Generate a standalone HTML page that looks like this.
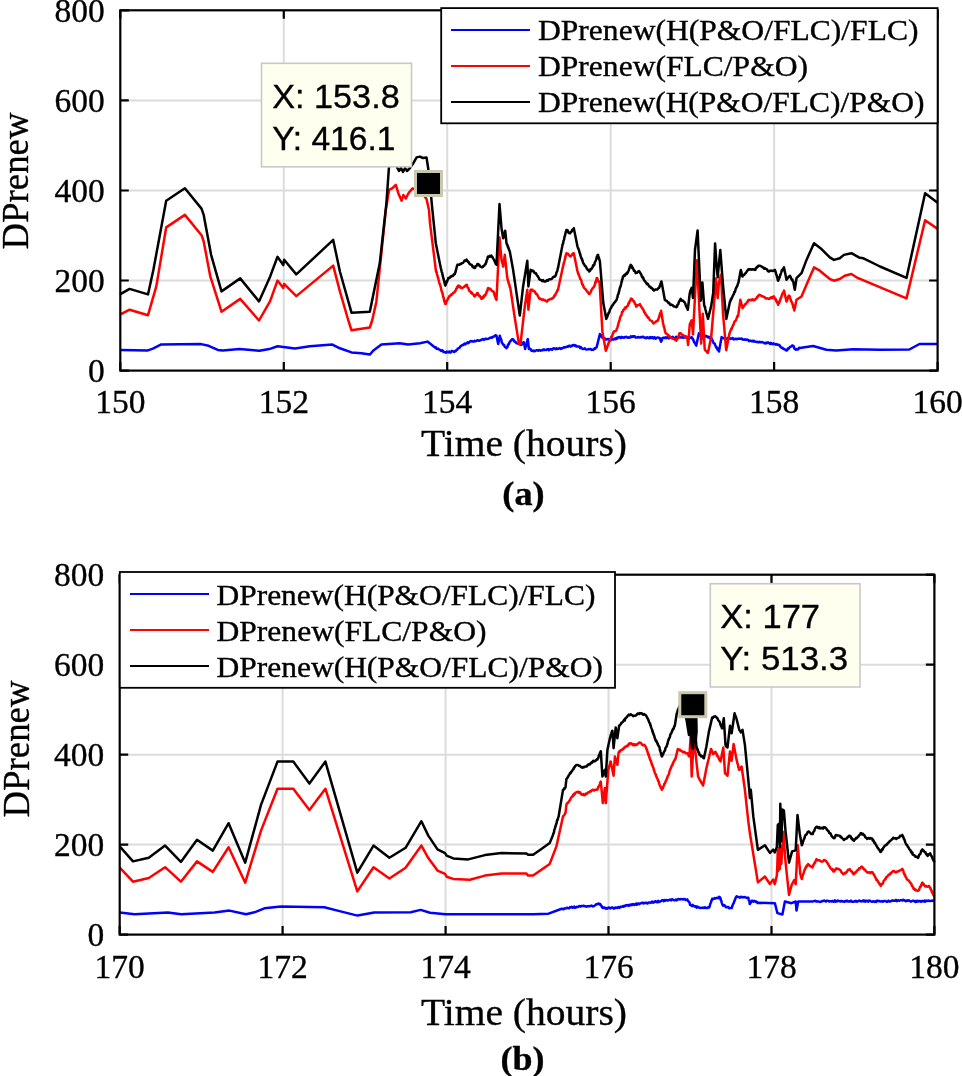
<!DOCTYPE html>
<html><head><meta charset="utf-8"><style>
html,body{margin:0;padding:0;background:#fff;}
svg{display:block;filter:blur(0.3px);}
text{stroke:#000;stroke-width:0.35px;}
.tk{font-family:"Liberation Serif",serif;font-size:33.5px;fill:#000;}
.lab{font-family:"Liberation Serif",serif;font-size:38.7px;fill:#000;}
.cap{font-family:"Liberation Serif",serif;font-size:34px;font-weight:bold;fill:#000;}
.lg{font-family:"Liberation Serif",serif;font-size:30px;fill:#000;}
.dt{font-family:"Liberation Sans",sans-serif;font-size:33.5px;fill:#000;}
</style></head><body>
<svg width="962" height="1076" viewBox="0 0 962 1076">
<path d="M283.8 10.3V370.6 M447.2 10.3V370.6 M610.7 10.3V370.6 M774.1 10.3V370.6 M120.3 280.5H937.6 M120.3 190.5H937.6 M120.3 100.4H937.6" stroke="#dcdcdc" stroke-width="2" fill="none"/>
<path d="M120.3 349.9 L147.9 350.4 L152.9 348.6 L161.2 344.4 L201.2 344.1 L208.6 345.8 L217.8 349.9 L222.8 350.4 L239.4 349.1 L259.4 350.8 L269.3 349.1 L277.5 346.3 L283.3 346.9 L295.0 348.6 L309.9 346.3 L332.4 344.6 L339.9 348.3 L351.5 352.4 L361.5 353.3 L369.8 354.6 L373.1 350.8 L381.4 344.6 L399.7 343.3 L408.0 344.6 L420.0 343.2 L427.5 341.6 L435.0 347.4 L435.8 347.2 L436.5 348.7 L437.3 348.9 L438.1 348.6 L438.8 349.3 L439.6 349.6 L440.4 350.3 L441.2 350.9 L441.9 350.3 L442.7 350.5 L443.5 352.1 L444.2 351.9 L445.0 352.4 L445.8 352.7 L446.7 351.5 L447.5 352.0 L448.3 352.4 L449.2 351.5 L450.0 352.5 L450.8 352.4 L451.6 351.0 L452.5 350.9 L453.3 351.5 L454.1 352.0 L455.0 351.1 L455.8 351.2 L456.4 350.2 L457.1 349.9 L457.7 348.7 L458.4 348.3 L459.0 348.1 L459.7 347.5 L460.3 346.5 L461.0 345.9 L461.6 345.7 L462.4 344.9 L463.1 344.9 L463.9 344.3 L464.6 343.5 L465.4 344.3 L466.1 343.5 L466.9 343.3 L467.6 342.2 L468.4 343.1 L469.1 342.5 L469.9 341.6 L470.7 340.9 L471.6 341.1 L472.4 341.6 L473.2 341.4 L474.0 341.6 L474.9 340.7 L475.7 341.2 L476.5 340.9 L477.4 340.2 L478.2 340.5 L479.0 340.8 L479.9 340.6 L480.7 340.0 L481.5 340.0 L482.4 339.0 L483.2 339.2 L484.0 339.9 L484.8 339.2 L485.7 338.7 L486.5 339.1 L487.3 338.9 L488.0 338.9 L488.8 338.6 L489.6 337.9 L490.3 337.7 L491.1 337.5 L491.9 337.7 L492.7 337.0 L493.4 336.6 L494.2 336.5 L495.0 335.5 L495.7 335.3 L496.5 335.7 L498.2 344.1 L499.8 335.7 L500.1 336.8 L500.4 338.1 L500.6 338.3 L500.9 338.9 L501.2 339.4 L501.5 340.7 L501.7 342.3 L502.0 342.8 L502.3 343.2 L502.8 343.9 L503.4 345.0 L503.9 344.7 L504.4 345.7 L504.9 347.0 L505.4 347.1 L506.0 347.5 L506.5 348.2 L506.9 347.1 L507.2 346.8 L507.6 346.7 L508.0 344.5 L508.3 345.0 L508.7 344.3 L509.1 343.6 L509.4 342.7 L509.8 341.6 L510.4 341.4 L511.0 340.4 L511.7 339.8 L512.3 339.1 L512.9 339.6 L513.5 339.6 L514.1 341.4 L514.7 341.5 L515.3 341.6 L515.9 342.6 L516.5 343.2 L517.3 343.5 L518.2 343.6 L519.0 343.8 L519.8 344.4 L520.7 344.8 L521.5 344.9 L522.1 344.4 L522.8 343.6 L523.4 342.3 L524.0 342.4 L525.1 349.0 L525.3 347.8 L525.5 346.9 L525.8 346.7 L526.0 346.2 L526.2 345.3 L526.5 344.5 L526.7 343.7 L526.9 342.0 L527.1 342.1 L527.3 341.0 L527.6 339.3 L527.8 339.1 L528.9 349.0 L529.7 348.7 L530.6 349.2 L531.4 350.7 L532.3 350.4 L533.1 351.2 L533.9 350.5 L534.8 351.2 L535.6 350.7 L536.4 350.2 L537.3 350.3 L538.1 350.8 L538.9 350.1 L539.8 350.2 L540.6 350.8 L541.4 350.3 L542.2 350.0 L543.1 350.2 L543.9 349.4 L544.7 349.9 L545.6 349.9 L546.4 349.9 L547.2 349.3 L548.1 349.1 L548.9 350.2 L549.7 349.5 L550.6 349.0 L551.4 349.5 L552.2 349.7 L553.1 348.4 L553.9 348.3 L554.7 348.4 L555.6 349.2 L556.4 348.3 L557.2 349.0 L558.1 348.8 L558.9 348.6 L559.7 348.0 L560.6 349.0 L561.4 348.2 L562.2 348.4 L563.1 347.8 L563.9 347.2 L564.7 347.6 L565.6 347.0 L566.4 347.1 L567.2 346.5 L568.1 346.7 L568.9 345.7 L569.7 345.8 L570.6 346.6 L571.4 345.7 L572.3 346.0 L573.3 344.9 L574.2 344.9 L574.9 345.8 L575.7 345.3 L576.4 346.5 L577.2 346.6 L577.9 346.4 L578.6 346.5 L579.4 346.5 L580.1 348.1 L580.9 347.2 L581.6 348.2 L582.4 348.8 L583.3 349.1 L584.1 348.7 L584.9 348.2 L585.8 349.4 L586.6 349.6 L587.5 349.4 L588.3 349.2 L589.1 349.1 L590.0 349.2 L590.8 349.1 L591.6 349.9 L592.5 349.7 L593.3 349.9 L594.0 348.9 L594.6 348.3 L595.3 348.6 L595.9 347.6 L596.6 347.4 L599.9 334.1 L600.5 334.8 L601.0 335.2 L601.6 336.7 L602.2 337.4 L602.7 336.8 L603.3 338.2 L604.1 338.0 L604.9 338.4 L605.8 339.6 L606.6 339.5 L607.4 339.0 L608.2 339.0 L609.1 339.9 L609.9 339.9 L610.7 340.2 L611.6 340.1 L612.4 339.0 L613.2 339.6 L614.1 339.1 L614.9 338.6 L615.7 339.2 L616.6 337.8 L617.4 338.4 L618.2 337.2 L619.1 337.1 L619.9 337.4 L620.7 338.0 L621.6 336.9 L622.4 337.7 L623.2 337.4 L624.1 337.8 L624.9 337.0 L625.7 336.9 L626.5 336.8 L627.4 337.7 L628.2 337.2 L629.0 337.7 L629.9 337.6 L630.7 336.4 L631.5 337.0 L632.4 336.3 L633.2 336.9 L634.0 336.2 L634.8 336.3 L635.6 337.6 L636.4 337.5 L637.2 337.6 L638.0 336.9 L638.8 337.3 L639.6 337.6 L640.5 337.1 L641.3 337.4 L642.1 336.9 L642.9 336.7 L643.7 337.1 L644.5 338.0 L645.3 337.6 L646.1 338.2 L646.9 337.5 L647.7 337.3 L648.5 338.1 L649.3 338.2 L650.1 337.0 L650.9 338.0 L651.7 337.2 L652.5 337.3 L653.4 338.5 L654.2 337.2 L655.0 337.6 L655.8 338.7 L656.6 337.9 L657.4 337.5 L658.2 337.6 L659.0 337.8 L659.8 338.2 L660.1 339.4 L660.5 339.3 L660.8 341.4 L661.1 341.6 L661.4 340.6 L661.7 340.6 L662.0 339.7 L662.3 338.2 L663.1 337.8 L663.9 337.7 L664.7 338.0 L665.5 337.4 L666.3 338.2 L667.1 337.2 L667.9 337.1 L668.7 338.5 L669.5 337.4 L670.3 337.8 L671.1 337.6 L672.0 337.3 L672.8 336.9 L673.6 338.1 L674.4 338.2 L675.2 338.1 L676.0 336.8 L676.8 336.9 L677.6 337.4 L678.4 337.9 L679.2 337.2 L680.0 337.1 L680.9 337.5 L681.7 337.6 L682.6 337.2 L683.5 337.7 L684.3 337.5 L685.2 337.6 L686.1 337.5 L686.9 337.9 L687.8 338.4 L688.6 338.9 L689.4 337.8 L690.1 337.8 L690.9 337.6 L691.7 337.1 L692.1 338.5 L692.5 338.4 L692.9 338.9 L693.2 339.7 L693.6 340.4 L694.0 341.9 L694.4 342.6 L694.8 342.5 L695.1 343.2 L695.5 344.2 L695.9 345.0 L696.3 345.6 L698.9 333.2 L699.4 334.1 L699.8 334.3 L700.3 334.7 L700.7 335.8 L701.2 336.3 L701.6 337.7 L702.1 338.4 L702.9 337.2 L703.7 336.7 L704.4 337.0 L705.2 336.0 L706.0 335.8 L706.7 336.6 L707.5 336.5 L708.2 337.5 L709.0 336.8 L709.7 337.7 L710.5 338.5 L711.2 338.4 L711.6 338.5 L712.1 340.5 L712.5 340.1 L712.9 341.7 L713.4 342.8 L713.8 343.3 L714.2 343.3 L714.7 343.7 L715.1 345.0 L715.5 345.7 L716.0 347.1 L716.4 346.9 L716.8 348.5 L717.3 348.1 L717.7 349.9 L718.1 349.4 L718.6 350.5 L719.0 351.5 L721.6 337.1 L722.4 338.0 L723.2 338.1 L724.0 338.5 L724.8 338.7 L725.6 338.4 L726.4 338.8 L727.2 338.7 L728.0 338.0 L728.8 338.4 L729.6 338.0 L730.4 338.9 L731.2 338.8 L732.0 338.3 L732.8 338.0 L733.6 339.4 L734.4 339.2 L735.2 338.8 L736.0 338.8 L736.8 339.3 L737.6 338.7 L738.4 338.7 L739.2 338.6 L740.0 338.9 L740.8 338.7 L741.7 338.5 L742.5 339.6 L743.3 339.4 L744.2 339.8 L745.0 339.2 L745.8 339.8 L746.6 339.6 L747.5 339.7 L748.3 340.1 L749.1 341.1 L750.0 340.6 L750.8 340.8 L751.6 341.3 L752.5 340.8 L753.3 341.4 L754.1 340.8 L754.9 341.6 L755.7 341.7 L756.5 342.0 L757.3 341.8 L758.1 342.2 L758.9 342.4 L759.7 341.7 L760.5 342.2 L761.3 342.3 L762.1 342.0 L762.9 342.4 L763.7 342.7 L764.5 343.3 L765.3 343.4 L766.1 342.5 L766.9 343.2 L767.7 342.4 L768.5 342.5 L769.3 343.3 L770.1 343.9 L770.9 342.9 L771.7 343.9 L772.5 344.2 L773.3 343.4 L774.1 344.1 L774.9 343.9 L775.7 344.6 L776.5 344.0 L777.4 344.7 L778.2 344.9 L779.0 344.7 L779.6 345.4 L780.2 346.4 L780.8 347.1 L781.4 347.8 L782.0 347.8 L782.6 347.8 L783.2 348.9 L784.0 348.9 L784.9 349.3 L785.7 350.2 L786.5 350.5 L787.1 350.3 L787.7 348.6 L788.3 349.0 L788.9 348.4 L789.5 347.5 L790.3 346.8 L791.1 346.5 L792.0 345.5 L792.8 345.5 L793.3 346.5 L793.8 346.2 L794.2 348.3 L794.7 348.8 L795.2 349.2 L795.7 349.7 L796.5 349.0 L797.3 349.6 L798.2 349.4 L799.0 347.8 L799.8 348.0 L813.1 346.0 L826.4 349.7 L836.4 350.5 L853.1 349.2 L880.0 349.7 L909.3 349.5 L919.5 344.0 L937.6 344.0" stroke="#0000ff" stroke-width="2.5" fill="none" stroke-linejoin="round"/>
<path d="M120.0 314.7 L129.6 309.7 L148.0 315.2 L156.3 286.4 L166.2 227.4 L184.9 214.9 L201.5 235.2 L203.7 241.5 L210.3 276.4 L221.5 311.7 L240.2 298.9 L259.0 320.5 L270.0 301.4 L277.5 280.6 L283.3 288.1 L284.1 283.9 L296.3 296.1 L333.2 265.6 L339.9 291.4 L348.2 320.0 L351.5 330.3 L369.8 327.5 L372.3 320.0 L376.4 301.4 L385.8 210.0 L389.1 189.9 L392.5 188.2 L395.8 184.9 L398.3 193.2 L401.6 200.7 L403.3 195.0 L405.8 198.5 L408.6 193.0 L412.4 188.6 L420.0 190.0 L426.5 199.0 L429.0 210.0 L430.0 223.2 L435.8 269.8 L436.0 271.3 L436.2 272.0 L436.4 271.5 L436.7 272.3 L436.9 274.2 L437.1 274.8 L437.3 275.5 L437.5 275.7 L437.7 276.9 L438.0 277.7 L438.2 278.4 L438.4 278.6 L438.6 279.8 L438.8 280.5 L439.0 281.8 L439.3 282.9 L439.5 283.6 L439.7 283.8 L439.9 284.4 L440.1 285.0 L440.3 285.4 L440.6 286.1 L440.8 287.6 L441.0 288.1 L441.2 289.0 L441.4 290.5 L441.6 290.8 L441.8 291.6 L442.1 291.9 L442.3 292.3 L442.5 293.6 L442.7 294.1 L442.9 295.4 L443.1 296.9 L443.4 297.2 L443.6 297.2 L443.8 299.1 L444.0 299.7 L444.2 300.4 L444.4 301.4 L444.7 302.0 L444.9 302.8 L445.1 302.9 L445.3 303.9 L445.7 303.9 L446.1 303.1 L446.4 301.1 L446.8 301.3 L447.2 300.5 L447.6 299.3 L448.0 298.7 L448.3 297.9 L448.7 297.8 L449.1 296.4 L449.7 295.8 L450.4 295.8 L451.0 294.5 L451.7 294.8 L452.3 294.2 L453.0 293.0 L453.6 292.6 L454.3 292.6 L454.9 291.4 L455.3 291.0 L455.8 289.9 L456.2 288.8 L456.6 288.2 L457.0 288.1 L457.4 286.5 L457.9 286.9 L458.3 285.6 L459.0 285.7 L459.7 287.1 L460.4 286.6 L461.0 288.0 L461.7 288.0 L462.4 288.1 L463.1 287.6 L463.8 287.0 L464.5 286.7 L465.2 286.0 L465.9 285.1 L466.6 284.8 L467.0 285.1 L467.3 286.3 L467.7 287.7 L468.1 287.9 L468.4 287.8 L468.8 289.7 L469.2 290.3 L469.5 291.3 L469.9 291.4 L470.5 291.6 L471.1 293.0 L471.8 292.6 L472.4 294.1 L473.0 294.2 L473.6 294.7 L474.3 296.3 L474.9 296.4 L475.4 295.1 L475.9 295.1 L476.4 295.0 L476.9 293.4 L477.4 293.1 L477.9 293.4 L478.4 295.1 L478.9 295.2 L479.4 296.3 L480.0 296.0 L480.5 297.2 L481.0 297.7 L481.5 298.9 L482.1 298.6 L482.7 297.1 L483.3 297.8 L483.9 295.8 L484.5 296.3 L485.1 294.7 L485.7 294.8 L486.0 293.6 L486.3 293.6 L486.6 291.8 L486.9 291.0 L487.3 290.9 L487.6 289.6 L487.9 288.3 L488.2 288.1 L488.9 289.3 L489.6 288.5 L490.3 288.8 L491.1 289.8 L491.8 290.6 L492.5 291.3 L493.2 291.4 L493.5 291.6 L493.8 292.7 L494.1 293.0 L494.4 294.4 L494.7 295.6 L495.0 296.3 L495.3 297.3 L495.6 297.9 L495.9 298.8 L496.2 299.3 L496.5 299.8 L499.5 237.4 L501.5 259.8 L501.7 260.6 L501.9 261.1 L502.1 262.6 L502.4 262.9 L502.6 263.4 L502.8 264.7 L503.0 266.2 L503.2 266.5 L504.8 254.8 L507.3 278.1 L507.5 278.3 L507.7 279.8 L508.0 280.3 L508.2 281.2 L508.4 281.5 L508.6 283.5 L508.8 283.2 L509.1 284.5 L509.3 285.0 L509.5 285.2 L509.7 286.8 L509.9 286.9 L510.2 287.6 L510.4 288.3 L510.6 289.8 L514.8 318.0 L519.0 344.1 L520.5 344.0 L524.8 306.4 L527.3 289.8 L528.4 309.7 L530.6 289.8 L531.4 289.6 L532.3 289.8 L533.1 291.0 L534.0 291.1 L534.8 291.4 L535.3 292.8 L535.7 293.4 L536.2 294.2 L536.6 293.7 L537.1 294.7 L537.5 295.1 L538.0 296.3 L538.4 297.0 L538.9 298.0 L539.3 298.5 L539.8 298.9 L540.6 298.8 L541.4 299.4 L542.3 299.9 L543.1 299.4 L543.9 299.8 L544.8 300.6 L545.6 300.5 L546.4 301.4 L547.1 301.4 L547.9 300.3 L548.6 299.7 L549.4 299.5 L550.1 299.2 L550.9 298.8 L551.6 298.9 L552.4 298.4 L553.1 298.1 L553.5 297.1 L553.9 296.9 L554.3 295.6 L554.7 295.9 L555.1 295.3 L555.5 294.3 L556.0 293.2 L556.4 292.6 L556.8 292.0 L557.2 290.5 L557.6 290.4 L558.0 289.8 L563.0 266.5 L563.2 265.8 L563.4 264.5 L563.6 263.5 L563.8 263.8 L564.0 262.4 L564.2 261.8 L564.4 261.7 L564.6 260.4 L564.8 259.1 L565.0 259.4 L565.2 257.7 L565.4 256.4 L565.6 256.6 L565.8 254.9 L566.0 254.5 L566.2 254.5 L566.4 253.2 L567.1 254.0 L567.8 253.6 L568.5 254.8 L569.1 255.3 L569.8 255.9 L570.5 256.5 L571.2 255.4 L571.8 255.3 L572.5 253.9 L573.1 253.5 L573.8 253.2 L577.5 271.5 L577.8 272.1 L578.1 273.7 L578.4 273.2 L578.7 275.0 L579.0 275.0 L579.3 276.3 L579.6 276.8 L579.9 277.7 L580.2 278.9 L580.6 279.2 L580.9 279.6 L581.2 280.3 L581.5 281.1 L581.8 283.0 L582.1 283.5 L582.4 284.7 L582.7 285.1 L583.0 284.9 L583.3 286.4 L583.8 287.3 L584.4 288.2 L584.9 288.8 L585.4 289.1 L585.9 289.6 L586.5 290.4 L587.0 291.6 L587.5 291.5 L588.0 292.6 L588.6 293.2 L589.1 293.9 L589.6 293.9 L590.0 293.0 L590.5 292.5 L590.9 291.7 L591.4 290.2 L591.8 289.4 L592.3 289.1 L592.7 288.1 L593.2 287.7 L593.6 287.4 L594.1 286.4 L594.4 286.2 L594.7 284.9 L594.9 284.4 L595.2 282.5 L595.5 282.0 L595.8 282.2 L596.1 280.1 L596.3 279.6 L596.6 278.3 L596.9 278.1 L597.3 278.2 L597.7 280.1 L598.1 281.0 L598.4 281.2 L598.8 281.1 L599.2 282.1 L599.6 283.1 L602.4 331.6 L605.8 350.7 L606.1 349.5 L606.4 349.4 L606.7 348.7 L607.0 347.5 L607.3 346.9 L607.6 345.5 L607.8 345.4 L608.1 345.2 L608.4 344.1 L608.7 342.4 L609.0 342.2 L609.3 341.8 L609.6 340.3 L609.9 339.9 L610.3 339.7 L610.7 338.3 L611.0 337.9 L611.4 336.7 L611.8 336.9 L612.2 335.8 L612.6 334.7 L613.0 333.3 L613.3 333.0 L613.7 331.6 L614.1 331.6 L614.9 331.2 L615.8 331.0 L616.6 329.9 L616.8 328.6 L617.0 328.4 L617.3 327.6 L617.5 326.7 L617.7 326.3 L617.9 325.9 L618.1 324.8 L618.4 323.7 L618.6 323.6 L618.8 321.9 L619.0 321.8 L619.2 320.9 L619.5 320.2 L619.7 319.6 L619.9 318.3 L620.2 317.1 L620.5 317.0 L620.8 315.9 L621.1 315.5 L621.4 315.2 L621.7 314.0 L622.0 312.3 L622.3 312.2 L622.6 311.8 L622.9 311.3 L623.2 310.0 L623.8 309.6 L624.4 309.3 L625.0 307.5 L625.6 308.3 L626.2 307.3 L626.8 306.6 L627.4 305.8 L627.8 305.7 L628.2 304.9 L628.5 303.0 L628.9 303.4 L629.3 302.6 L629.7 301.0 L630.1 301.1 L630.4 300.2 L630.8 298.9 L631.2 298.6 L631.8 299.7 L632.3 299.3 L632.9 300.6 L633.4 300.9 L634.0 301.6 L634.4 302.1 L634.8 303.4 L635.2 304.1 L635.7 304.5 L636.1 306.5 L636.5 306.6 L637.2 305.5 L637.9 304.9 L638.5 305.1 L639.2 305.1 L639.9 304.1 L640.3 305.1 L640.7 306.0 L641.1 306.3 L641.5 307.4 L642.0 307.6 L642.4 308.3 L642.8 309.4 L643.2 309.4 L643.6 310.2 L644.0 311.6 L644.5 312.7 L645.0 312.5 L645.5 314.1 L645.9 314.8 L646.4 314.9 L646.9 316.0 L647.4 316.9 L647.9 317.7 L648.3 317.3 L648.8 318.0 L649.3 319.0 L649.8 319.9 L650.5 320.4 L651.2 320.7 L651.9 320.9 L652.6 322.3 L653.3 323.4 L654.0 323.3 L654.7 322.5 L655.4 322.2 L656.0 321.4 L656.7 320.9 L657.4 321.0 L658.1 319.9 L658.4 318.8 L658.6 318.5 L658.9 317.4 L659.2 316.6 L659.5 316.4 L659.7 314.3 L660.0 314.6 L660.3 313.0 L660.6 312.7 L660.8 312.1 L661.1 310.8 L663.1 323.3 L663.3 324.4 L663.5 324.8 L663.7 326.3 L663.9 326.0 L664.1 327.6 L664.4 328.1 L664.6 329.1 L664.8 330.4 L665.0 331.2 L665.2 331.7 L665.4 332.1 L665.6 333.2 L666.3 333.4 L666.9 334.2 L667.6 334.5 L668.2 335.1 L668.9 336.7 L669.5 336.0 L670.2 337.6 L670.8 337.5 L671.5 338.2 L672.3 338.4 L673.1 338.8 L674.0 338.8 L674.8 339.8 L675.6 339.8 L676.4 340.7 L676.7 339.9 L677.1 338.9 L677.4 339.0 L677.8 338.3 L678.1 336.9 L678.4 336.4 L678.8 336.1 L679.1 334.4 L679.5 333.3 L679.8 333.2 L680.5 333.2 L681.2 333.6 L681.8 334.8 L682.5 334.7 L683.2 335.2 L683.9 335.8 L684.7 336.6 L685.5 336.0 L686.4 337.2 L687.2 337.1 L688.1 345.0 L689.8 324.1 L690.2 323.5 L690.6 322.4 L690.9 322.2 L691.3 320.7 L691.7 320.2 L693.0 334.5 L696.9 260.3 L699.5 311.1 L701.1 343.6 L702.8 313.7 L704.7 348.9 L705.2 350.1 L705.8 350.8 L706.4 350.9 L706.9 351.8 L707.5 352.8 L708.0 352.8 L711.2 337.1 L714.5 298.1 L715.8 278.6 L717.7 298.1 L719.0 281.2 L719.2 280.8 L719.5 280.0 L719.8 279.3 L720.0 278.6 L720.2 277.5 L720.5 277.0 L720.8 275.2 L721.0 274.7 L723.0 313.7 L726.2 350.2 L729.5 333.2 L729.8 332.6 L730.2 331.9 L730.5 330.7 L730.9 330.0 L731.2 328.8 L731.6 329.3 L731.9 327.6 L732.3 327.0 L732.6 326.8 L733.0 325.0 L733.3 324.7 L733.7 324.6 L734.1 322.6 L734.5 321.7 L734.8 321.4 L735.2 320.7 L735.6 320.8 L736.0 319.9 L736.4 319.0 L736.8 317.8 L737.1 317.1 L737.5 315.9 L737.9 316.1 L738.3 314.8 L740.3 299.8 L740.5 300.5 L740.7 301.1 L741.0 302.5 L741.2 302.6 L741.4 303.7 L741.6 305.4 L741.8 305.0 L742.1 305.9 L742.3 306.8 L742.5 308.1 L743.0 307.1 L743.5 306.7 L744.0 305.8 L744.5 305.3 L745.0 304.5 L745.5 303.9 L746.1 303.8 L746.6 302.7 L747.1 302.2 L747.6 302.1 L748.1 300.4 L748.6 299.9 L749.1 299.8 L749.9 300.3 L750.8 299.7 L751.6 300.2 L752.4 299.2 L753.2 299.8 L754.1 300.3 L754.9 299.8 L755.4 298.9 L756.0 299.0 L756.5 298.1 L757.0 297.1 L757.5 297.4 L758.0 295.9 L758.6 295.4 L759.1 294.8 L759.9 295.3 L760.7 295.2 L761.6 296.3 L762.4 296.3 L763.2 296.5 L763.9 296.9 L764.7 297.2 L765.4 298.2 L766.2 298.5 L766.9 298.6 L767.6 298.3 L768.4 298.6 L769.1 299.0 L769.9 298.6 L770.8 297.5 L771.6 297.2 L772.4 298.1 L773.3 296.4 L774.1 296.5 L774.5 297.9 L774.8 298.3 L775.2 299.4 L775.6 298.9 L776.0 300.0 L776.3 301.5 L776.7 301.0 L777.1 301.9 L777.5 303.1 L777.8 303.6 L778.2 304.8 L778.5 303.5 L778.8 303.5 L779.1 301.9 L779.4 302.5 L779.7 301.3 L780.0 299.6 L780.3 300.1 L780.6 298.4 L780.9 298.0 L781.2 297.3 L781.5 296.5 L781.8 295.2 L782.1 295.0 L782.4 293.6 L782.8 293.1 L783.1 293.4 L783.4 292.6 L783.7 291.4 L784.0 290.6 L786.5 301.5 L786.8 301.0 L787.1 300.6 L787.4 298.7 L787.8 298.5 L788.1 297.3 L788.4 296.5 L788.7 295.7 L789.0 295.6 L789.3 295.9 L789.7 296.4 L790.0 297.4 L790.3 298.4 L790.6 299.5 L791.0 300.6 L791.3 301.5 L791.6 301.9 L792.0 302.4 L792.3 303.1 L792.5 304.6 L792.7 304.3 L793.0 305.0 L793.2 306.9 L793.4 307.5 L793.6 307.7 L793.9 308.7 L794.1 309.5 L794.3 310.6 L796.5 299.8 L801.5 296.5 L806.5 284.8 L814.0 267.4 L819.8 270.7 L829.8 279.0 L833.9 280.7 L839.8 279.0 L844.7 275.7 L851.4 274.0 L858.0 278.2 L860.0 278.8 L906.5 298.4 L925.1 220.2 L937.6 228.9" stroke="#ff0000" stroke-width="2.5" fill="none" stroke-linejoin="round"/>
<path d="M120.0 294.4 L129.6 288.9 L148.0 294.4 L153.4 269.8 L166.2 200.8 L184.9 188.3 L201.5 208.6 L203.7 214.9 L211.1 254.8 L221.5 291.4 L240.2 278.4 L259.0 301.4 L270.2 276.4 L277.5 256.8 L283.3 265.1 L284.1 259.8 L296.3 274.4 L333.2 239.9 L339.9 271.5 L351.5 312.7 L369.8 311.7 L379.8 263.1 L386.4 203.3 L388.9 168.0 L391.0 162.0 L394.0 160.0 L397.4 168.0 L399.0 171.0 L401.0 168.0 L403.0 172.0 L405.0 168.0 L407.0 171.0 L410.0 168.0 L412.8 164.1 L416.6 157.4 L419.9 156.6 L423.0 158.0 L426.5 157.4 L427.4 163.3 L428.2 168.3 L430.5 190.0 L432.4 210.0 L435.8 243.2 L440.8 268.1 L441.0 268.5 L441.2 269.8 L441.4 270.3 L441.6 271.4 L441.8 272.3 L442.0 272.2 L442.2 272.9 L442.4 275.0 L442.6 274.9 L442.8 275.7 L443.1 277.6 L443.3 277.6 L443.5 278.9 L443.7 279.2 L443.9 280.2 L444.1 280.3 L444.3 281.8 L444.5 283.0 L444.7 283.2 L444.9 284.4 L445.1 285.1 L445.3 285.6 L445.6 284.2 L445.9 284.5 L446.2 283.5 L446.5 282.3 L446.8 281.1 L447.1 281.6 L447.4 280.3 L447.7 279.9 L448.0 279.4 L448.3 278.1 L449.0 278.0 L449.8 277.8 L450.5 276.6 L451.2 276.7 L452.0 275.7 L452.7 276.0 L453.4 275.5 L454.2 273.9 L454.9 274.0 L455.1 272.6 L455.4 271.9 L455.6 272.2 L455.8 270.6 L456.0 270.0 L456.3 268.7 L456.5 268.2 L456.7 267.1 L456.9 266.2 L457.2 265.8 L457.4 264.8 L458.2 264.6 L459.1 264.8 L459.9 264.1 L460.8 264.2 L461.6 263.2 L462.3 263.2 L463.0 262.9 L463.7 261.9 L464.5 260.6 L465.2 261.1 L465.9 260.7 L466.6 259.5 L467.2 260.9 L467.7 261.1 L468.2 262.1 L468.8 262.1 L469.3 263.7 L469.9 264.0 L470.5 264.6 L471.1 264.7 L471.8 264.9 L472.4 266.6 L473.0 267.3 L473.6 266.5 L474.3 268.0 L474.9 268.1 L475.3 267.3 L475.7 266.2 L476.1 265.7 L476.6 265.8 L477.0 265.2 L477.4 264.0 L478.1 263.9 L478.8 265.3 L479.4 265.0 L480.1 266.5 L480.8 266.5 L481.5 267.3 L482.2 267.3 L482.9 266.9 L483.6 265.7 L484.3 265.8 L485.0 264.3 L485.7 264.0 L486.0 262.5 L486.3 262.5 L486.5 260.8 L486.8 260.2 L487.1 259.7 L487.4 259.2 L487.6 257.7 L487.9 256.6 L488.2 256.5 L489.0 256.9 L489.9 255.8 L490.7 256.6 L491.5 255.7 L491.9 257.0 L492.3 256.9 L492.8 257.7 L493.2 258.5 L493.6 259.3 L494.0 259.8 L494.4 260.8 L494.8 261.6 L495.2 262.5 L495.7 263.8 L496.1 264.0 L496.5 264.8 L499.5 204.1 L501.5 228.2 L503.2 238.2 L503.4 237.3 L503.6 236.9 L503.9 235.3 L504.1 234.6 L504.3 234.8 L504.5 233.2 L504.8 232.4 L505.0 230.8 L505.2 230.7 L506.5 243.2 L506.8 243.8 L507.1 244.8 L507.4 244.7 L507.7 246.4 L508.0 247.2 L508.3 247.1 L508.6 248.7 L508.9 249.2 L509.2 250.3 L509.5 250.5 L509.8 251.5 L513.1 269.8 L519.8 315.6 L523.1 286.4 L527.3 260.7 L528.4 286.4 L530.6 269.8 L531.3 270.6 L532.0 271.1 L532.7 270.5 L533.5 271.0 L534.2 272.4 L534.9 273.3 L535.6 273.1 L536.1 273.5 L536.5 274.5 L537.0 275.5 L537.5 275.8 L537.9 276.6 L538.4 277.3 L538.9 278.1 L539.3 279.2 L539.8 279.8 L540.6 279.8 L541.4 280.2 L542.2 281.1 L543.1 280.2 L543.9 281.3 L544.7 281.5 L545.5 281.5 L546.4 280.6 L547.2 280.1 L548.0 280.7 L548.9 279.5 L549.7 279.2 L550.6 279.2 L551.4 279.0 L552.1 278.7 L552.8 277.3 L553.5 277.0 L554.2 276.5 L554.9 276.7 L555.6 275.6 L555.9 274.7 L556.1 274.5 L556.4 272.6 L556.7 272.0 L556.9 271.7 L557.2 271.2 L557.5 269.7 L557.7 268.5 L558.0 268.1 L562.2 246.5 L562.4 245.1 L562.6 245.0 L562.8 243.7 L563.0 243.8 L563.2 243.1 L563.4 241.3 L563.6 240.6 L563.8 240.6 L564.0 239.6 L564.2 239.1 L564.4 237.6 L564.6 236.5 L564.8 235.9 L565.0 235.9 L565.2 234.3 L565.4 233.6 L565.6 232.9 L565.8 232.2 L566.0 231.3 L566.2 231.3 L566.4 229.9 L567.1 230.0 L567.7 230.5 L568.4 232.5 L569.0 233.1 L569.7 233.2 L570.2 233.3 L570.7 231.9 L571.2 232.0 L571.8 231.3 L572.3 229.7 L572.8 229.8 L573.3 229.3 L573.8 228.2 L577.5 246.5 L577.8 247.5 L578.0 248.0 L578.3 248.5 L578.6 249.3 L578.8 249.9 L579.1 250.4 L579.3 251.9 L579.6 252.3 L579.9 253.8 L580.1 253.4 L580.4 255.5 L580.7 255.9 L580.9 257.0 L581.2 257.7 L581.5 258.5 L581.7 258.8 L582.0 258.7 L582.2 260.5 L582.5 260.4 L582.8 261.4 L583.0 262.7 L583.3 263.2 L583.8 263.9 L584.3 264.5 L584.8 265.9 L585.2 266.1 L585.7 266.4 L586.2 267.0 L586.7 268.6 L587.2 268.7 L587.6 269.8 L588.1 269.9 L588.6 270.4 L589.1 271.5 L589.6 270.9 L590.1 270.6 L590.6 269.0 L591.1 269.3 L591.6 268.8 L592.1 267.9 L592.6 267.3 L593.1 265.4 L593.6 265.7 L594.1 264.8 L594.4 264.6 L594.7 262.6 L595.0 262.1 L595.3 261.4 L595.6 261.0 L595.9 260.1 L596.1 259.4 L596.4 259.1 L596.7 257.1 L597.0 256.4 L597.3 255.8 L597.6 255.0 L597.9 254.8 L598.1 255.0 L598.4 257.2 L598.6 257.8 L598.9 257.5 L599.1 259.0 L599.4 259.5 L599.6 260.4 L599.9 261.5 L603.3 303.1 L606.3 318.9 L606.6 317.9 L607.0 317.6 L607.3 316.7 L607.6 315.6 L608.0 314.5 L608.3 314.0 L608.6 312.9 L609.0 312.7 L609.3 312.2 L609.6 310.9 L609.9 309.7 L610.3 309.0 L610.6 308.6 L610.9 308.1 L611.3 307.6 L611.6 306.4 L612.1 305.6 L612.6 305.5 L613.1 304.6 L613.6 303.7 L614.1 302.9 L614.6 302.4 L615.1 302.1 L615.6 301.0 L616.1 300.8 L616.6 299.8 L616.8 299.0 L617.0 297.9 L617.3 297.5 L617.5 297.0 L617.7 295.3 L617.9 295.0 L618.1 294.3 L618.4 294.2 L618.6 293.5 L618.8 291.8 L619.0 291.9 L619.2 290.9 L619.5 289.3 L619.7 288.9 L619.9 287.6 L620.1 287.8 L620.3 286.8 L620.6 286.4 L620.8 285.5 L621.0 284.5 L621.2 283.8 L621.4 282.8 L621.7 281.3 L621.9 281.3 L622.1 279.6 L622.3 279.1 L622.5 279.2 L622.8 277.4 L623.0 276.7 L623.2 276.5 L623.9 275.3 L624.6 275.9 L625.3 274.3 L626.0 273.5 L626.7 274.2 L627.4 273.1 L627.7 271.8 L628.0 272.1 L628.3 271.1 L628.6 270.6 L628.9 270.0 L629.2 268.7 L629.5 268.3 L629.8 266.4 L630.1 266.7 L630.4 265.6 L630.7 264.8 L631.1 265.8 L631.5 265.6 L632.0 267.2 L632.4 268.2 L632.8 267.6 L633.2 268.7 L633.6 269.7 L634.0 270.8 L634.5 270.6 L634.9 271.2 L635.3 272.0 L635.7 273.1 L636.5 272.8 L637.4 272.5 L638.2 271.4 L639.0 271.1 L639.4 271.6 L639.8 272.3 L640.3 273.0 L640.7 273.8 L641.1 274.0 L641.5 275.3 L641.9 276.7 L642.4 276.6 L642.8 277.8 L643.2 277.6 L643.6 279.1 L644.0 279.9 L644.4 280.5 L644.9 280.9 L645.3 281.6 L645.7 282.3 L646.3 283.1 L646.9 284.1 L647.5 283.6 L648.1 284.1 L648.7 285.6 L649.3 286.5 L649.9 286.5 L650.4 287.0 L651.0 288.0 L651.6 287.8 L652.2 288.5 L652.8 289.0 L653.4 290.1 L654.0 290.6 L654.8 289.9 L655.7 289.4 L656.5 289.6 L657.3 289.6 L658.2 288.2 L659.0 288.1 L659.3 287.6 L659.6 286.3 L659.9 286.2 L660.2 284.9 L660.6 283.6 L660.9 282.7 L661.2 281.6 L661.5 281.5 L664.8 299.8 L665.4 300.3 L666.0 300.6 L666.7 300.8 L667.3 301.6 L667.9 302.1 L668.5 303.3 L669.2 302.9 L669.8 303.9 L670.5 305.0 L671.3 304.6 L672.0 305.1 L672.7 305.3 L673.5 306.2 L674.2 306.6 L674.9 306.6 L675.7 306.8 L676.4 307.2 L676.8 306.8 L677.2 306.2 L677.5 304.8 L677.9 304.5 L678.3 304.1 L678.7 302.6 L679.1 301.5 L679.5 300.8 L679.8 300.7 L680.2 299.9 L680.6 298.9 L681.3 300.2 L681.9 300.7 L682.6 300.4 L683.2 300.9 L683.9 301.7 L684.5 302.2 L685.2 303.3 L685.5 304.4 L685.9 305.5 L686.2 306.3 L686.5 306.2 L686.8 307.9 L687.1 307.9 L687.5 308.9 L687.8 309.8 L689.8 292.9 L690.1 292.4 L690.4 290.5 L690.8 289.7 L691.1 289.9 L691.4 288.3 L691.7 287.7 L693.0 298.1 L695.0 249.9 L697.6 230.4 L698.9 259.0 L700.8 300.7 L702.4 282.5 L704.1 304.6 L704.3 305.2 L704.5 306.3 L704.8 307.2 L705.0 307.0 L705.2 308.3 L705.4 309.3 L705.6 310.1 L705.8 310.5 L706.0 311.9 L706.3 313.2 L706.5 313.2 L706.7 314.2 L706.9 314.4 L707.1 315.4 L707.4 316.8 L707.6 316.7 L707.8 318.7 L708.0 318.9 L711.2 305.9 L713.2 292.9 L715.1 243.4 L716.4 263.0 L717.7 277.3 L719.0 263.0 L720.3 249.9 L723.0 285.1 L726.3 318.9 L730.0 301.5 L730.4 301.4 L730.7 299.4 L731.1 299.9 L731.5 298.3 L731.8 298.2 L732.2 297.4 L732.6 296.0 L732.9 295.8 L733.3 294.8 L733.6 294.3 L734.0 293.7 L734.3 292.1 L734.6 292.1 L735.0 291.6 L735.3 290.4 L735.6 289.4 L736.0 288.0 L736.3 287.8 L736.6 286.8 L737.0 286.6 L737.3 285.8 L737.6 284.8 L738.0 283.5 L738.3 283.2 L740.8 269.9 L741.0 270.9 L741.2 271.7 L741.4 271.9 L741.6 273.8 L741.9 274.3 L742.1 274.3 L742.3 276.3 L742.5 276.5 L743.0 275.3 L743.6 275.0 L744.1 275.0 L744.7 274.1 L745.2 273.5 L745.8 273.0 L746.4 272.1 L746.9 271.2 L747.5 270.4 L748.0 269.6 L748.6 269.9 L749.1 269.0 L749.9 269.5 L750.8 269.3 L751.6 269.7 L752.4 269.3 L753.2 269.3 L754.1 269.6 L754.9 269.9 L755.5 269.8 L756.0 267.8 L756.6 267.8 L757.2 266.7 L757.7 266.8 L758.3 265.7 L759.1 265.7 L760.0 265.8 L760.8 266.2 L761.6 266.5 L762.3 267.0 L763.0 267.8 L763.6 267.6 L764.3 268.8 L765.0 268.2 L765.7 268.9 L766.4 269.1 L767.1 269.6 L767.7 271.0 L768.4 271.4 L769.1 271.5 L769.9 270.8 L770.8 270.6 L771.6 270.7 L772.4 271.0 L773.2 270.8 L774.1 270.5 L774.9 269.9 L775.1 270.8 L775.4 270.9 L775.6 272.1 L775.8 272.5 L776.1 273.8 L776.3 274.6 L776.5 274.9 L776.8 275.7 L777.0 277.3 L777.3 276.9 L777.5 278.8 L777.7 279.7 L778.0 280.6 L778.2 280.7 L778.5 279.8 L778.8 279.2 L779.0 278.5 L779.3 277.8 L779.6 277.6 L779.9 276.4 L780.1 275.0 L780.4 275.1 L780.7 273.8 L781.0 273.2 L781.2 272.6 L781.5 271.5 L781.9 270.1 L782.3 270.5 L782.8 269.7 L783.2 268.8 L783.6 268.1 L784.0 267.4 L786.5 279.8 L787.1 279.1 L787.6 278.0 L788.2 277.8 L788.8 276.4 L789.3 276.4 L789.9 275.7 L790.3 276.6 L790.7 277.1 L791.1 278.0 L791.5 279.3 L792.0 279.9 L792.4 279.5 L792.8 281.2 L793.2 281.5 L794.8 289.8 L796.5 278.2 L801.5 273.2 L806.5 259.9 L814.0 243.2 L821.5 249.1 L829.8 257.4 L833.9 259.9 L839.8 258.2 L843.9 254.9 L851.4 253.2 L858.9 257.4 L863.0 258.2 L880.0 266.5 L906.5 277.9 L925.1 193.3 L937.6 202.8" stroke="#000000" stroke-width="2.5" fill="none" stroke-linejoin="round"/>
<path d="M120.3 370.6v-8.5M120.3 10.3v8.5 M283.8 370.6v-8.5M283.8 10.3v8.5 M447.2 370.6v-8.5M447.2 10.3v8.5 M610.7 370.6v-8.5M610.7 10.3v8.5 M774.1 370.6v-8.5M774.1 10.3v8.5 M937.6 370.6v-8.5M937.6 10.3v8.5 M120.3 370.6h8.5M937.6 370.6h-8.5 M120.3 280.5h8.5M937.6 280.5h-8.5 M120.3 190.5h8.5M937.6 190.5h-8.5 M120.3 100.4h8.5M937.6 100.4h-8.5 M120.3 10.3h8.5M937.6 10.3h-8.5" stroke="#000" stroke-width="2.2" fill="none"/>
<rect x="120.3" y="10.3" width="817.3" height="360.3" stroke="#000" stroke-width="2.2" fill="none"/>
<text x="120.3" y="413.1" text-anchor="middle" class="tk">150</text>
<text x="283.8" y="413.1" text-anchor="middle" class="tk">152</text>
<text x="447.2" y="413.1" text-anchor="middle" class="tk">154</text>
<text x="610.7" y="413.1" text-anchor="middle" class="tk">156</text>
<text x="774.1" y="413.1" text-anchor="middle" class="tk">158</text>
<text x="937.6" y="413.1" text-anchor="middle" class="tk">160</text>
<text x="104.8" y="382.1" text-anchor="end" class="tk">0</text>
<text x="104.8" y="292.0" text-anchor="end" class="tk">200</text>
<text x="104.8" y="202.0" text-anchor="end" class="tk">400</text>
<text x="104.8" y="111.9" text-anchor="end" class="tk">600</text>
<text x="104.8" y="21.8" text-anchor="end" class="tk">800</text>
<text transform="translate(27.5,181) rotate(-90)" text-anchor="middle" class="lab" textLength="137" lengthAdjust="spacingAndGlyphs">DPrenew</text>
<text x="524" y="456.1" text-anchor="middle" class="lab" textLength="206" lengthAdjust="spacingAndGlyphs">Time (hours)</text>
<text x="523.5" y="504.8" text-anchor="middle" class="cap" textLength="42.3" lengthAdjust="spacingAndGlyphs">(a)</text>
<rect x="441.2" y="8.1" width="496.40000000000003" height="115.2" fill="#fff" stroke="#000" stroke-width="1.8"/>
<path d="M451 30H530" stroke="#0000ff" stroke-width="1.8"/>
<text x="538" y="40.2" class="lg" textLength="380.5" lengthAdjust="spacingAndGlyphs">DPrenew(H(P&amp;O/FLC)/FLC)</text>
<path d="M451 66H530" stroke="#ff0000" stroke-width="1.8"/>
<text x="538" y="75.9" class="lg" textLength="270" lengthAdjust="spacingAndGlyphs">DPrenew(FLC/P&amp;O)</text>
<path d="M451 102H530" stroke="#000000" stroke-width="1.8"/>
<text x="538" y="111.7" class="lg" textLength="386.5" lengthAdjust="spacingAndGlyphs">DPrenew(H(P&amp;O/FLC)/P&amp;O)</text>
<rect x="261.5" y="63.3" width="150" height="103.5" fill="#fffff0" stroke="#c8c8c8" stroke-width="1.6"/>
<text x="272.2" y="108.2" class="dt" textLength="127.5" lengthAdjust="spacingAndGlyphs">X: 153.8</text>
<text x="272.2" y="150" class="dt" textLength="123.3" lengthAdjust="spacingAndGlyphs">Y: 416.1</text>
<rect x="415.5" y="171.5" width="26" height="24" fill="#000" stroke="#c9c7ac" stroke-width="3"/>
<path d="M282.6 574.7V934.6 M445.6 574.7V934.6 M608.5 574.7V934.6 M771.5 574.7V934.6 M119.7 844.6H934.4 M119.7 754.7H934.4 M119.7 664.7H934.4" stroke="#dcdcdc" stroke-width="2" fill="none"/>
<path d="M119.7 912.6 L134.6 914.3 L167.9 912.6 L181.2 914.3 L214.5 912.6 L229.4 910.6 L246.1 914.3 L254.4 912.3 L264.4 908.3 L281.0 906.6 L324.3 907.3 L337.6 910.6 L357.5 915.6 L374.2 912.6 L410.7 912.3 L420.7 909.9 L430.0 912.7 L445.6 914.3 L492.4 914.3 L532.9 914.3 L548.5 913.7 L561.0 909.0 L561.8 908.8 L562.6 908.9 L563.5 909.3 L564.3 908.5 L565.1 908.4 L565.9 908.4 L566.7 907.7 L567.6 908.1 L568.4 908.2 L569.2 908.3 L570.0 907.1 L570.9 907.3 L571.7 906.9 L572.5 907.8 L573.3 907.6 L574.1 906.5 L575.0 907.8 L575.8 907.6 L576.6 906.8 L577.4 907.0 L578.2 906.9 L579.0 906.1 L579.9 905.9 L580.7 906.6 L581.5 905.9 L582.3 906.0 L583.1 906.0 L583.9 905.7 L584.8 906.3 L585.6 906.2 L586.4 906.7 L587.2 906.2 L588.0 906.3 L588.8 906.1 L589.7 906.3 L590.5 905.9 L591.3 905.6 L592.1 905.9 L592.9 906.4 L593.7 906.2 L594.4 905.8 L595.2 905.3 L596.0 904.5 L596.8 904.2 L597.6 904.0 L598.3 903.5 L599.1 904.3 L599.9 903.7 L600.4 904.3 L601.0 905.7 L601.5 905.7 L602.0 907.3 L602.6 907.8 L603.1 908.0 L603.9 907.3 L604.7 907.6 L605.6 908.6 L606.4 908.0 L607.2 908.7 L608.0 907.8 L608.9 907.4 L609.7 908.2 L610.5 908.4 L611.3 907.7 L612.2 907.4 L613.0 907.7 L613.8 908.7 L614.6 908.4 L615.5 907.4 L616.3 907.6 L617.1 908.0 L617.9 907.2 L618.7 907.0 L619.4 907.9 L620.2 906.7 L621.0 907.1 L621.8 906.8 L622.6 906.2 L623.4 906.8 L624.1 905.7 L624.9 906.3 L625.7 905.3 L626.5 905.6 L627.3 905.1 L628.0 904.9 L628.8 905.8 L629.6 904.9 L630.4 905.3 L631.2 904.4 L632.0 905.2 L632.9 904.1 L633.7 904.3 L634.5 904.9 L635.3 904.4 L636.1 903.5 L636.9 904.8 L637.7 903.5 L638.5 903.5 L639.4 904.2 L640.2 903.4 L641.0 903.3 L641.8 902.8 L642.6 902.8 L643.4 903.4 L644.2 902.8 L645.0 903.2 L645.9 902.8 L646.7 902.8 L647.5 903.5 L648.3 902.7 L649.1 902.6 L649.9 902.6 L650.7 902.9 L651.6 901.8 L652.4 901.6 L653.2 902.7 L654.0 902.4 L654.8 901.5 L655.6 901.3 L656.4 902.0 L657.2 902.2 L658.1 900.9 L658.9 902.0 L659.7 901.8 L660.5 901.2 L661.3 900.8 L662.1 900.3 L662.9 900.1 L663.7 901.3 L664.6 900.1 L665.4 900.7 L666.2 899.9 L667.0 900.2 L667.8 900.6 L668.6 900.3 L669.4 899.8 L670.2 899.6 L671.1 900.4 L671.9 899.3 L672.7 899.5 L673.5 900.0 L674.3 900.4 L675.1 900.0 L675.9 899.5 L676.7 900.4 L677.6 899.3 L678.4 899.0 L679.2 899.3 L680.0 899.5 L680.8 898.9 L681.6 899.1 L682.4 899.3 L683.2 899.6 L684.1 898.9 L684.9 899.2 L685.7 900.0 L686.5 900.1 L687.3 899.3 L687.7 900.2 L688.1 901.0 L688.5 901.5 L688.8 901.6 L689.2 902.1 L689.6 902.8 L690.0 904.8 L690.4 904.9 L691.2 905.5 L692.0 906.1 L692.7 904.9 L693.5 906.1 L694.3 906.1 L695.1 906.7 L695.9 906.4 L696.6 907.6 L697.4 906.5 L698.2 907.4 L699.0 907.5 L699.9 907.8 L700.7 908.0 L701.6 907.8 L702.4 907.7 L703.2 907.8 L704.1 908.0 L704.9 907.2 L705.7 907.7 L706.6 908.0 L707.4 908.0 L708.3 907.3 L709.1 907.4 L709.4 907.0 L709.7 906.4 L709.9 905.1 L710.2 904.4 L710.5 903.3 L710.8 902.8 L711.1 902.0 L711.4 900.4 L711.6 900.5 L711.9 900.2 L712.2 898.7 L713.1 899.1 L713.9 898.8 L714.8 898.1 L715.7 898.5 L716.5 898.1 L717.4 897.7 L718.3 898.2 L719.1 896.9 L720.0 897.4 L720.3 898.6 L720.6 898.3 L720.8 900.0 L721.1 900.7 L721.4 901.1 L721.7 902.6 L721.9 903.2 L722.2 904.1 L722.5 904.8 L723.2 905.8 L723.9 905.3 L724.6 905.3 L725.3 906.2 L726.0 907.2 L726.7 907.3 L727.5 907.0 L728.3 907.1 L729.2 908.3 L730.0 908.1 L730.8 907.9 L731.6 908.1 L731.9 907.9 L732.2 906.2 L732.5 905.9 L732.9 904.3 L733.2 903.9 L733.5 903.6 L733.8 902.9 L734.1 901.5 L734.5 901.3 L734.8 899.8 L735.2 899.4 L735.5 898.2 L735.9 897.2 L736.2 897.0 L736.6 896.2 L737.4 896.9 L738.3 897.1 L739.1 897.1 L739.9 897.6 L740.8 896.8 L741.6 897.3 L742.4 896.9 L743.3 897.4 L744.1 897.2 L745.0 897.1 L745.8 897.5 L746.6 897.9 L747.5 897.7 L748.3 897.8 L748.5 898.3 L748.7 899.9 L748.9 900.8 L749.1 900.8 L749.3 901.0 L749.5 901.7 L749.7 903.8 L749.9 904.0 L750.3 902.5 L750.8 902.7 L751.2 901.6 L751.6 900.7 L752.4 900.7 L753.3 901.7 L754.1 900.8 L755.0 901.2 L755.8 901.9 L756.6 901.6 L757.5 903.0 L758.3 902.8 L774.9 903.2 L777.4 913.1 L782.4 914.5 L784.9 901.5 L791.5 903.2 L795.7 901.5 L796.5 910.6 L798.2 901.5 L813.1 901.5 L813.9 901.1 L814.7 900.9 L815.5 900.8 L816.3 901.6 L817.1 901.3 L817.9 901.6 L818.7 901.6 L819.5 901.8 L820.3 902.0 L821.1 901.6 L821.9 900.9 L822.7 901.3 L823.5 900.8 L824.3 900.5 L825.2 901.2 L826.0 901.5 L826.8 900.7 L827.6 900.8 L828.4 900.9 L829.2 901.5 L830.0 901.2 L830.8 901.3 L831.6 901.5 L832.4 900.9 L833.2 901.5 L834.0 901.7 L834.8 900.4 L835.6 901.7 L836.4 901.0 L837.2 901.3 L838.0 900.5 L838.8 900.9 L839.7 901.2 L840.5 901.6 L841.3 900.8 L842.1 901.1 L842.9 901.6 L843.7 901.5 L844.5 901.7 L845.3 901.0 L846.2 901.3 L847.0 900.6 L847.8 901.4 L848.6 901.5 L849.4 901.3 L850.2 901.4 L851.0 900.6 L851.9 901.7 L852.7 901.8 L853.5 901.8 L854.3 901.2 L855.1 901.5 L855.9 900.8 L856.7 901.7 L857.5 901.6 L858.4 900.9 L859.2 900.5 L860.0 901.0 L860.8 901.2 L861.6 901.5 L862.4 901.1 L863.2 900.4 L864.1 901.6 L864.9 900.5 L865.7 901.6 L866.5 900.7 L867.3 900.9 L868.1 901.6 L868.9 900.6 L869.7 900.7 L870.6 901.2 L871.4 901.5 L872.2 901.7 L873.0 901.2 L873.8 901.5 L874.6 901.9 L875.4 901.2 L876.2 901.9 L877.1 900.6 L877.9 900.8 L878.7 901.2 L879.5 900.9 L880.3 901.5 L881.1 901.4 L881.9 901.2 L882.8 901.7 L883.6 901.3 L884.4 900.9 L885.2 901.0 L886.0 901.2 L886.8 901.7 L887.6 901.7 L888.5 900.6 L889.3 901.5 L890.1 901.6 L890.9 900.9 L891.7 900.9 L892.6 900.3 L893.4 900.8 L894.2 900.7 L895.0 900.8 L895.9 899.9 L896.7 901.2 L897.5 900.5 L898.3 900.3 L899.1 900.8 L900.0 900.4 L900.8 900.2 L901.6 900.2 L902.4 900.5 L903.2 899.7 L904.0 900.4 L904.8 900.3 L905.6 901.2 L906.4 901.2 L907.2 900.3 L908.0 900.7 L908.8 900.2 L909.6 900.7 L910.5 901.4 L911.3 901.5 L912.1 901.0 L912.9 900.8 L913.7 900.7 L914.5 901.4 L915.3 901.9 L916.1 900.8 L916.9 901.8 L917.7 900.7 L918.5 901.5 L919.3 901.0 L920.2 901.0 L921.0 901.7 L921.8 901.1 L922.7 901.1 L923.5 901.5 L924.4 900.6 L925.2 901.6 L926.0 900.6 L926.9 901.1 L927.7 900.7 L928.5 900.6 L929.4 901.1 L930.2 900.9 L931.1 900.8 L931.9 900.8 L932.7 900.9 L933.6 900.3 L934.4 900.8" stroke="#0000ff" stroke-width="2.5" fill="none" stroke-linejoin="round"/>
<path d="M119.7 867.7 L133.0 881.7 L148.8 878.0 L165.1 867.2 L180.9 881.7 L197.0 861.4 L212.8 871.9 L228.6 847.3 L245.2 882.7 L261.0 830.6 L277.5 788.7 L293.3 788.7 L309.4 809.9 L325.4 788.7 L357.3 891.4 L373.5 867.2 L389.4 878.5 L405.6 867.7 L421.4 845.6 L428.3 858.1 L437.5 870.6 L445.0 873.9 L446.6 876.7 L453.3 878.9 L469.9 879.7 L484.9 875.6 L501.5 873.6 L526.4 873.6 L528.1 875.6 L533.1 875.6 L541.4 869.7 L549.7 863.9 L556.4 846.4 L563.0 816.5 L563.5 815.8 L564.0 815.4 L564.5 814.8 L565.0 813.3 L565.5 813.2 L566.4 804.9 L566.9 803.5 L567.4 803.3 L567.9 802.5 L568.3 802.6 L568.8 801.7 L569.3 800.9 L569.8 800.1 L570.3 799.5 L570.8 798.1 L571.2 797.8 L571.7 796.7 L572.2 796.5 L572.8 796.5 L573.3 794.6 L573.9 795.2 L574.4 793.5 L575.0 793.8 L575.5 792.9 L576.4 792.3 L577.4 792.0 L578.3 791.8 L579.0 792.8 L579.7 792.1 L580.4 792.6 L581.1 794.4 L581.8 794.3 L582.5 794.8 L583.3 794.0 L584.1 795.2 L585.0 795.0 L585.8 793.6 L586.6 794.0 L587.3 793.4 L588.0 792.5 L588.7 792.3 L589.5 792.2 L590.2 791.1 L590.9 791.4 L591.6 790.6 L592.4 789.8 L593.3 789.8 L594.1 790.6 L594.9 789.8 L595.7 789.7 L596.6 789.8 L597.4 789.5 L597.7 788.7 L598.1 787.7 L598.4 786.4 L598.8 786.6 L599.1 786.2 L599.4 785.4 L599.8 784.1 L600.1 782.9 L600.5 782.1 L600.8 781.5 L602.8 803.1 L604.9 788.1 L605.8 803.1 L608.3 769.8 L608.5 769.3 L608.8 768.4 L609.0 766.7 L609.3 766.1 L609.5 765.4 L609.7 764.8 L610.0 764.5 L610.2 763.2 L610.5 761.6 L610.7 761.5 L613.6 775.7 L614.9 756.5 L615.1 757.8 L615.4 758.1 L615.6 759.0 L615.9 759.4 L616.1 760.5 L616.4 761.3 L616.6 762.7 L616.9 762.5 L617.1 764.0 L617.4 764.8 L618.6 752.4 L619.3 751.4 L619.9 751.7 L620.6 750.2 L621.2 750.1 L621.9 749.7 L622.5 749.7 L623.2 749.0 L623.8 747.8 L624.4 747.9 L625.0 747.0 L625.6 746.6 L626.2 746.3 L626.9 746.5 L627.5 745.3 L628.1 745.5 L628.7 743.8 L629.3 744.4 L629.9 743.2 L630.7 743.3 L631.6 743.4 L632.4 744.6 L633.2 745.2 L634.1 744.1 L634.9 745.2 L635.7 744.5 L636.6 744.9 L637.4 744.0 L638.2 743.5 L639.0 742.8 L639.9 742.5 L640.7 742.9 L641.4 743.6 L642.1 744.7 L642.8 745.2 L643.6 745.0 L644.3 744.8 L645.0 745.7 L645.7 746.5 L646.0 747.7 L646.2 748.5 L646.5 749.0 L646.8 749.1 L647.0 750.3 L647.3 751.0 L647.5 752.0 L647.8 752.2 L648.1 754.0 L648.3 754.7 L648.6 754.3 L648.9 755.3 L649.1 756.9 L649.4 756.8 L649.7 758.6 L649.9 758.7 L650.2 759.7 L650.4 760.5 L650.7 760.5 L651.0 761.4 L651.2 762.1 L651.5 763.2 L651.8 764.3 L652.1 765.1 L652.4 765.0 L652.7 766.9 L653.0 767.0 L653.3 767.5 L653.6 768.6 L653.9 770.2 L654.1 770.3 L654.4 771.2 L654.7 772.4 L655.0 773.3 L655.3 773.8 L655.6 774.0 L655.9 775.1 L656.2 776.3 L656.5 776.5 L656.8 777.7 L657.1 778.2 L657.4 778.6 L657.7 779.4 L658.1 780.8 L658.4 781.3 L658.7 781.3 L659.0 783.1 L659.3 784.1 L659.6 784.8 L659.9 785.7 L660.2 786.5 L660.6 786.7 L660.9 787.9 L661.2 788.1 L661.5 788.4 L661.8 789.8 L662.2 788.8 L662.5 788.0 L662.9 788.1 L663.2 787.0 L663.6 786.0 L664.0 785.4 L664.3 783.9 L664.7 783.7 L665.1 783.2 L665.4 781.9 L665.8 781.0 L666.1 780.4 L666.5 779.8 L666.8 778.8 L667.1 778.5 L667.4 776.9 L667.7 776.1 L668.0 775.6 L668.3 775.4 L668.6 774.7 L668.9 773.8 L669.1 773.4 L669.4 771.8 L669.7 770.5 L670.0 770.4 L670.3 769.5 L670.6 768.4 L670.9 768.3 L671.2 767.0 L671.5 766.5 L671.9 765.4 L672.2 764.7 L672.6 764.9 L673.0 762.7 L673.4 762.5 L673.7 761.6 L674.1 760.8 L674.5 760.4 L674.9 759.3 L675.2 759.6 L675.6 758.2 L677.8 749.0 L678.5 749.4 L679.3 750.1 L680.0 749.7 L680.8 750.6 L681.5 751.2 L682.3 751.5 L683.1 752.3 L684.0 751.7 L684.8 752.3 L685.6 753.2 L686.5 753.4 L687.3 753.2 L687.8 753.6 L688.3 754.9 L688.9 756.1 L689.4 756.5 L690.6 736.6 L691.7 776.5 L693.9 736.6 L696.4 761.5 L698.1 776.5 L698.5 777.1 L698.9 778.3 L699.4 779.0 L699.8 780.2 L700.2 780.4 L700.6 781.3 L701.0 781.6 L701.4 782.9 L701.9 783.1 L702.3 784.1 L702.7 784.6 L703.1 785.6 L706.4 768.2 L711.0 749.0 L711.3 749.5 L711.7 750.1 L712.0 751.1 L712.3 752.4 L712.7 752.8 L713.0 754.0 L713.6 752.8 L714.2 753.4 L714.9 752.1 L715.5 751.9 L715.9 753.3 L716.3 753.5 L716.7 753.9 L717.0 755.4 L717.4 756.2 L717.8 756.1 L718.2 756.5 L718.6 758.0 L719.0 759.1 L719.3 759.4 L719.7 760.4 L720.1 760.6 L720.5 761.5 L723.3 747.4 L725.0 773.2 L725.6 774.0 L726.2 774.1 L726.9 774.9 L727.5 775.7 L730.0 751.5 L731.6 760.7 L733.6 744.1 L736.6 759.9 L736.8 760.5 L737.0 761.4 L737.2 762.2 L737.4 763.7 L737.6 763.5 L737.9 764.4 L738.1 765.3 L738.3 767.2 L738.5 767.4 L738.7 767.5 L738.9 769.5 L739.1 769.8 L739.6 769.7 L740.1 769.0 L740.6 767.6 L741.1 767.5 L741.6 766.5 L744.9 789.8 L748.3 821.4 L749.9 833.3 L757.9 882.4 L764.9 876.5 L769.9 884.0 L773.2 879.5 L774.7 884.1 L776.8 875.9 L777.3 865.7 L777.8 850.0 L778.3 871.0 L779.3 848.0 L779.8 869.0 L780.8 846.0 L781.3 864.0 L782.4 848.0 L783.4 832.0 L785.5 861.6 L789.0 894.9 L791.6 885.1 L794.2 880.0 L795.7 884.1 L797.7 845.2 L800.3 873.9 L800.5 874.5 L800.8 875.1 L801.0 877.0 L801.3 877.8 L801.5 877.7 L801.8 879.0 L802.0 878.8 L802.3 876.7 L802.5 876.4 L802.8 875.1 L803.0 874.6 L803.3 873.8 L803.5 873.8 L803.8 872.4 L804.0 871.5 L804.3 870.7 L804.5 870.1 L804.8 870.1 L805.0 868.8 L805.4 868.3 L805.9 866.9 L806.3 867.1 L806.8 866.2 L807.2 865.4 L807.7 864.8 L808.1 864.1 L808.8 864.9 L809.5 865.7 L810.2 865.8 L810.9 866.5 L811.6 866.8 L812.3 867.4 L812.7 866.8 L813.1 865.7 L813.4 865.0 L813.8 864.4 L814.2 863.9 L814.6 862.5 L815.0 862.8 L815.4 861.4 L815.7 861.1 L816.1 860.1 L816.5 859.1 L817.3 860.2 L818.2 860.2 L819.0 860.2 L819.8 860.6 L820.7 861.3 L821.5 861.6 L822.3 861.6 L823.1 861.4 L824.0 860.0 L824.8 860.2 L825.3 860.2 L825.8 860.9 L826.3 861.5 L826.8 862.1 L827.3 862.7 L827.8 863.7 L828.3 864.1 L828.8 865.6 L829.3 866.1 L829.8 866.6 L830.3 867.9 L830.8 868.5 L831.3 868.8 L831.8 869.8 L832.4 869.0 L832.9 869.9 L833.4 871.6 L833.9 871.6 L834.4 870.9 L834.9 869.8 L835.4 869.9 L835.9 868.8 L836.4 868.2 L837.2 868.7 L838.1 868.8 L838.9 869.1 L839.8 869.9 L840.4 869.9 L841.0 871.3 L841.6 872.4 L842.1 873.0 L842.7 873.3 L843.3 874.2 L843.9 874.1 L844.5 873.3 L845.2 872.7 L845.8 873.1 L846.5 872.0 L847.1 871.6 L847.8 870.0 L848.4 869.8 L849.1 869.6 L849.7 869.1 L850.2 870.1 L850.8 870.8 L851.3 871.4 L851.8 871.4 L852.3 872.0 L852.9 873.4 L853.4 874.2 L853.9 874.1 L854.5 873.5 L855.1 872.5 L855.6 872.6 L856.2 871.8 L856.8 871.0 L857.4 870.2 L857.9 869.9 L858.5 869.7 L859.1 868.3 L859.7 868.4 L860.2 868.4 L860.8 867.5 L861.4 866.6 L862.0 866.8 L862.6 867.6 L863.1 867.7 L863.7 869.2 L864.3 869.6 L864.9 869.5 L865.5 870.6 L866.1 871.3 L866.6 871.8 L867.2 872.1 L867.8 872.8 L868.7 872.4 L869.6 872.3 L870.6 873.2 L871.5 872.1 L872.4 872.2 L872.8 872.9 L873.2 873.6 L873.6 873.9 L874.0 874.9 L874.4 875.4 L874.8 876.3 L875.2 877.1 L875.6 878.0 L876.1 878.5 L876.5 880.1 L877.0 879.8 L877.5 880.6 L878.0 881.8 L878.4 882.2 L878.9 883.1 L879.4 884.0 L879.9 883.8 L880.3 885.4 L880.8 885.9 L881.3 884.6 L881.7 884.0 L882.2 884.1 L882.7 883.7 L883.2 882.4 L883.6 881.0 L884.1 880.7 L884.6 879.9 L885.1 879.0 L885.6 879.2 L886.0 877.6 L886.5 876.9 L887.0 876.9 L887.5 876.3 L888.0 875.4 L888.6 875.0 L889.3 874.2 L890.0 874.4 L890.6 873.1 L891.2 873.2 L891.9 871.9 L892.6 871.4 L893.2 870.9 L894.0 871.0 L894.8 871.9 L895.6 872.3 L896.4 872.2 L897.1 871.4 L897.9 871.4 L898.6 871.3 L899.3 870.6 L900.1 870.4 L900.8 869.9 L901.6 869.6 L902.3 868.9 L902.6 869.4 L902.9 870.1 L903.3 870.4 L903.6 872.5 L903.9 873.0 L904.2 873.2 L904.5 874.8 L904.9 875.4 L905.2 875.1 L905.5 876.8 L905.8 877.0 L906.2 877.5 L906.5 878.2 L906.8 879.3 L907.5 879.8 L908.1 879.9 L908.8 880.6 L909.4 881.4 L910.1 882.6 L910.6 883.0 L911.0 883.5 L911.5 884.2 L911.9 886.0 L912.4 886.0 L912.8 886.9 L913.2 887.8 L913.7 889.0 L914.1 888.5 L914.6 889.8 L915.6 889.5 L916.5 890.6 L917.5 890.9 L918.5 890.4 L918.9 890.3 L919.3 888.9 L919.7 887.9 L920.1 886.8 L920.5 887.1 L920.8 886.1 L921.2 885.0 L921.6 884.6 L922.0 883.0 L922.4 882.6 L922.9 883.4 L923.4 884.8 L924.0 884.4 L924.5 885.9 L925.0 886.5 L926.0 885.9 L927.0 886.7 L927.9 886.6 L928.9 885.9 L929.3 886.9 L929.7 887.3 L930.1 887.4 L930.5 888.9 L930.9 889.4 L931.3 890.2 L931.6 890.5 L932.0 892.5 L932.4 892.6 L932.8 893.4 L933.2 894.6 L933.6 895.4 L934.0 895.6 L934.4 896.3" stroke="#ff0000" stroke-width="2.5" fill="none" stroke-linejoin="round"/>
<path d="M119.7 846.4 L133.0 861.4 L148.8 857.8 L165.1 845.6 L180.9 861.9 L197.0 839.8 L212.8 850.6 L228.6 823.2 L245.2 862.7 L261.0 804.9 L277.5 761.6 L293.3 761.6 L309.4 783.6 L325.4 761.6 L357.3 872.7 L373.5 845.6 L389.4 857.8 L405.6 847.8 L421.4 821.2 L428.3 835.6 L437.5 849.4 L445.0 853.1 L446.6 855.6 L453.3 858.4 L468.2 859.4 L484.9 855.1 L501.5 853.1 L526.4 853.4 L528.1 854.8 L533.1 854.8 L541.4 848.9 L549.7 843.1 L553.1 834.8 L553.3 833.7 L553.5 833.5 L553.8 832.8 L554.0 832.2 L554.2 830.5 L554.4 829.8 L554.7 828.9 L554.9 828.2 L555.1 828.2 L555.3 826.6 L555.6 826.4 L555.8 825.1 L556.0 824.5 L556.2 823.9 L556.4 823.8 L556.7 822.7 L556.9 821.0 L557.1 820.6 L557.3 819.7 L557.6 820.0 L557.8 819.1 L558.0 818.3 L558.2 817.6 L558.5 816.7 L558.7 816.2 L558.9 814.8 L563.0 789.9 L563.6 789.7 L564.2 788.3 L564.9 788.5 L565.5 787.4 L566.4 779.1 L566.9 778.4 L567.3 778.1 L567.8 777.2 L568.2 776.3 L568.7 775.5 L569.1 774.9 L569.6 774.0 L570.0 773.1 L570.5 773.4 L570.9 772.7 L571.4 771.6 L571.9 771.6 L572.4 770.4 L572.9 769.5 L573.5 769.1 L574.0 767.4 L574.5 767.5 L575.0 766.4 L575.5 765.8 L576.4 765.1 L577.4 765.0 L578.3 765.2 L579.0 765.7 L579.7 765.7 L580.4 766.4 L581.1 767.1 L581.8 767.2 L582.5 767.8 L583.3 767.0 L584.1 767.3 L585.0 766.6 L585.8 766.4 L586.6 766.5 L587.2 765.5 L587.9 765.2 L588.5 764.3 L589.1 764.6 L589.7 764.6 L590.4 763.2 L591.0 763.2 L591.6 762.3 L592.3 762.6 L593.0 760.9 L593.8 760.7 L594.5 761.4 L595.2 761.1 L596.0 760.4 L596.7 759.3 L597.4 759.5 L597.7 758.6 L598.0 758.5 L598.3 757.8 L598.6 756.9 L598.9 755.3 L599.3 755.5 L599.6 754.0 L599.9 753.8 L600.2 752.2 L600.5 752.7 L600.8 751.2 L602.4 776.5 L602.7 775.8 L603.0 775.2 L603.3 773.6 L603.6 773.3 L604.0 772.4 L604.3 771.6 L604.6 770.4 L604.9 769.8 L605.8 776.5 L607.4 749.9 L609.9 738.2 L610.2 737.7 L610.5 736.3 L610.7 735.4 L611.0 734.4 L611.3 734.3 L611.6 732.6 L611.8 732.0 L612.1 730.9 L612.4 730.7 L613.6 748.2 L615.7 727.4 L617.4 738.2 L619.1 725.8 L619.7 725.4 L620.3 724.7 L620.9 724.1 L621.4 722.7 L622.0 722.7 L622.6 722.0 L623.2 721.6 L623.7 720.4 L624.3 719.6 L624.8 720.4 L625.3 718.5 L625.8 718.1 L626.4 717.4 L626.9 717.3 L627.4 715.9 L627.9 715.8 L628.5 715.0 L629.0 714.6 L629.8 715.3 L630.7 714.2 L631.5 714.9 L632.4 715.3 L633.2 716.2 L634.1 715.7 L634.9 715.8 L635.6 715.4 L636.3 715.3 L637.0 714.3 L637.8 713.5 L638.5 713.8 L639.2 714.0 L639.9 713.0 L640.7 713.6 L641.6 713.2 L642.4 714.1 L643.2 714.7 L644.0 714.1 L644.9 714.8 L645.7 715.0 L646.1 715.5 L646.4 716.1 L646.8 716.9 L647.2 717.6 L647.6 718.5 L647.9 718.8 L648.3 720.1 L648.7 720.4 L649.1 722.2 L649.4 722.7 L649.8 723.3 L650.1 723.3 L650.3 725.3 L650.6 725.2 L650.9 726.4 L651.1 727.3 L651.4 727.8 L651.6 728.5 L651.9 729.5 L652.2 729.8 L652.4 731.7 L652.7 731.3 L653.0 733.2 L653.2 733.1 L653.5 734.0 L653.7 734.9 L654.0 735.1 L654.3 736.1 L654.5 737.2 L654.8 738.2 L655.2 738.9 L655.6 740.3 L655.9 741.2 L656.3 740.5 L656.7 742.0 L657.1 742.2 L657.5 743.9 L657.9 744.0 L658.2 745.6 L658.6 745.8 L659.0 746.5 L659.2 746.8 L659.5 747.4 L659.7 748.6 L659.9 750.4 L660.2 750.1 L660.4 751.5 L660.6 752.1 L660.9 752.9 L661.1 754.5 L661.3 754.4 L661.6 756.0 L661.8 756.5 L662.2 756.0 L662.5 755.6 L662.9 754.2 L663.2 754.1 L663.6 752.6 L664.0 752.0 L664.3 751.3 L664.7 750.9 L665.1 750.2 L665.4 748.2 L665.8 747.5 L666.1 747.3 L666.5 746.5 L666.8 746.2 L667.0 745.0 L667.3 743.9 L667.5 744.1 L667.8 742.3 L668.0 741.2 L668.3 740.4 L668.5 739.6 L668.8 739.9 L669.1 738.2 L669.3 738.3 L669.6 737.7 L669.8 737.2 L670.1 736.1 L670.3 734.8 L670.6 734.1 L671.0 733.5 L671.4 733.1 L671.7 732.2 L672.1 730.8 L672.5 730.7 L672.9 729.0 L673.3 728.5 L673.7 728.8 L674.0 727.3 L674.4 726.2 L674.8 725.8 L676.8 713.3 L677.1 713.0 L677.4 711.7 L677.7 710.3 L678.0 709.6 L678.3 709.2 L678.5 708.5 L678.8 708.7 L679.1 706.9 L679.4 707.0 L679.7 706.3 L680.0 705.0 L680.4 705.6 L680.8 707.1 L681.2 707.5 L681.6 707.8 L682.0 708.1 L682.4 709.1 L682.8 710.5 L683.2 710.7 L683.6 710.8 L684.0 712.0 L684.3 712.6 L684.5 713.5 L684.8 713.9 L685.1 715.3 L685.3 715.2 L685.6 717.2 L685.9 717.0 L686.1 717.7 L686.4 719.1 L689.0 735.0 L690.5 718.0 L692.0 745.0 L692.3 745.9 L692.5 746.3 L692.8 748.0 L693.1 748.2 L694.5 720.0 L696.4 746.5 L696.7 747.3 L697.0 748.1 L697.3 749.3 L697.6 749.1 L697.9 750.7 L698.2 751.3 L698.5 751.7 L698.8 753.3 L699.1 752.7 L699.4 754.7 L699.7 754.9 L700.4 754.9 L701.1 756.5 L701.8 756.0 L702.5 756.4 L703.2 757.7 L703.9 758.2 L706.4 746.5 L708.9 731.6 L712.2 717.4 L713.0 717.8 L713.9 716.5 L714.7 716.6 L715.5 716.3 L716.0 717.1 L716.5 717.2 L717.0 718.3 L717.4 718.1 L717.9 719.4 L718.4 720.5 L718.9 720.8 L719.2 721.3 L719.6 721.9 L719.9 722.4 L720.2 724.1 L720.5 724.4 L720.9 725.9 L721.2 726.4 L721.5 726.2 L721.9 728.2 L722.2 728.3 L723.8 718.3 L725.5 744.9 L726.0 746.2 L726.5 746.6 L727.0 747.3 L727.5 747.4 L730.0 725.8 L731.6 733.2 L734.6 713.3 L734.9 714.4 L735.2 715.3 L735.5 716.0 L735.7 716.8 L736.0 717.1 L736.3 717.7 L736.6 719.1 L739.1 729.1 L739.5 730.3 L740.0 730.9 L740.4 730.9 L740.8 732.4 L741.4 731.8 L741.9 730.9 L742.5 729.9 L744.9 744.9 L749.1 788.1 L749.9 798.1 L750.8 789.8 L753.3 816.4 L757.9 849.9 L764.9 845.3 L769.9 852.9 L773.2 849.6 L774.7 852.4 L776.8 847.3 L777.8 824.8 L778.8 823.8 L779.8 847.3 L780.3 803.8 L781.4 841.2 L782.4 809.4 L783.9 810.5 L785.5 830.9 L789.0 862.6 L792.1 851.4 L795.7 850.4 L797.5 815.1 L799.8 834.0 L801.8 845.2 L802.1 844.5 L802.3 844.1 L802.6 843.5 L802.9 842.0 L803.1 841.8 L803.4 840.6 L803.7 839.9 L803.9 838.9 L804.2 838.9 L804.5 837.5 L804.7 837.4 L805.0 836.0 L805.5 835.0 L806.0 834.8 L806.5 834.4 L807.1 833.3 L807.6 832.1 L808.1 831.6 L808.8 831.4 L809.5 832.4 L810.2 832.7 L810.9 833.7 L811.6 834.1 L812.3 834.1 L812.7 834.1 L813.1 832.5 L813.6 831.7 L814.0 831.2 L814.4 830.8 L814.8 829.0 L815.2 828.5 L815.7 827.6 L816.1 827.2 L816.5 826.7 L817.3 826.7 L818.2 827.9 L819.0 827.1 L819.8 828.4 L820.7 827.7 L821.5 828.3 L822.3 827.7 L823.1 828.6 L824.0 827.1 L824.8 827.5 L825.4 827.6 L825.9 828.2 L826.5 828.8 L827.0 829.9 L827.6 830.3 L828.1 830.9 L828.7 831.3 L829.2 833.0 L829.8 833.3 L830.3 833.2 L830.8 834.1 L831.3 835.3 L831.8 836.4 L832.4 836.7 L832.9 837.4 L833.4 838.0 L833.9 838.3 L834.4 838.1 L834.9 837.5 L835.4 835.8 L835.9 835.0 L836.4 835.0 L837.2 835.4 L838.1 835.4 L838.9 835.6 L839.8 835.8 L840.4 836.8 L841.0 836.5 L841.6 837.9 L842.1 838.1 L842.7 838.7 L843.3 839.0 L843.9 840.0 L844.6 839.1 L845.4 839.1 L846.1 838.5 L846.8 838.5 L847.5 837.0 L848.2 837.2 L849.0 835.7 L849.7 835.8 L850.2 836.7 L850.8 836.5 L851.3 838.2 L851.8 839.0 L852.3 838.6 L852.9 840.0 L853.4 839.8 L853.9 840.8 L854.5 839.9 L855.1 839.1 L855.6 839.0 L856.2 837.9 L856.8 838.2 L857.4 837.5 L857.9 836.6 L858.5 836.5 L859.1 835.2 L859.7 834.8 L860.2 834.2 L860.8 833.1 L861.4 833.3 L862.2 834.5 L863.1 833.9 L863.9 835.1 L864.5 835.2 L865.0 836.8 L865.5 837.5 L866.1 837.6 L866.7 838.2 L867.2 839.0 L868.1 838.3 L869.0 838.0 L869.9 838.7 L870.8 838.1 L871.7 838.4 L872.2 838.6 L872.7 840.5 L873.2 839.9 L873.7 841.1 L874.1 842.4 L874.6 843.1 L875.1 842.9 L875.6 844.2 L876.1 845.3 L876.5 845.7 L877.0 846.5 L877.5 847.7 L878.0 848.2 L878.4 848.6 L878.9 849.6 L879.4 849.9 L879.9 850.7 L880.3 851.8 L880.8 852.0 L881.3 851.4 L881.7 850.3 L882.2 849.1 L882.7 849.5 L883.2 848.0 L883.6 847.4 L884.1 846.8 L884.8 845.8 L885.4 845.6 L886.0 844.7 L886.7 844.7 L887.4 843.7 L888.0 842.9 L888.6 842.4 L889.2 842.2 L889.7 841.1 L890.3 840.6 L890.9 840.4 L891.5 839.8 L892.0 839.2 L892.6 838.9 L893.2 837.7 L894.0 838.1 L894.8 838.4 L895.6 838.2 L896.4 839.0 L897.1 838.1 L897.9 837.9 L898.6 837.5 L899.3 837.5 L900.1 835.8 L900.8 835.7 L901.6 835.8 L902.3 834.9 L902.6 835.6 L902.9 837.0 L903.3 836.7 L903.6 838.4 L903.9 838.7 L904.2 839.7 L904.6 839.7 L904.9 841.0 L905.2 842.3 L905.6 843.0 L905.9 843.5 L906.2 844.2 L906.7 844.9 L907.2 845.1 L907.8 846.8 L908.3 847.2 L908.8 848.1 L909.3 849.2 L909.8 849.7 L910.3 850.1 L910.8 851.6 L911.3 851.2 L911.8 853.1 L912.3 852.5 L912.8 854.6 L913.3 854.6 L914.0 855.2 L914.6 855.5 L915.3 856.7 L915.9 856.5 L916.6 857.0 L917.2 856.8 L917.9 857.9 L918.3 857.6 L918.6 856.7 L919.0 855.4 L919.4 854.5 L919.8 854.2 L920.1 854.3 L920.5 853.5 L920.9 852.2 L921.3 850.8 L921.6 851.3 L922.0 849.7 L922.4 849.4 L923.0 850.4 L923.7 850.7 L924.4 852.0 L925.0 852.0 L925.5 852.3 L926.0 854.0 L926.6 854.7 L927.1 854.4 L927.6 855.9 L928.2 855.3 L928.9 854.3 L929.6 854.2 L930.2 853.3 L930.6 854.8 L930.9 855.1 L931.2 855.6 L931.6 856.5 L932.0 856.7 L932.3 857.8 L932.6 858.0 L933.0 859.7 L933.4 859.5 L933.7 860.9 L934.0 861.2 L934.4 862.4" stroke="#000000" stroke-width="2.5" fill="none" stroke-linejoin="round"/>
<path d="M684.5 716 L697.5 716 L697.8 732 L696.5 745 L699 752 L697.5 753 L694.8 742 L693.2 750 L690.8 749 L690.2 734 L686.5 722 Z" fill="#000"/>
<path d="M119.7 934.6v-8.5M119.7 574.7v8.5 M282.6 934.6v-8.5M282.6 574.7v8.5 M445.6 934.6v-8.5M445.6 574.7v8.5 M608.5 934.6v-8.5M608.5 574.7v8.5 M771.5 934.6v-8.5M771.5 574.7v8.5 M934.4 934.6v-8.5M934.4 574.7v8.5 M119.7 934.6h8.5M934.4 934.6h-8.5 M119.7 844.6h8.5M934.4 844.6h-8.5 M119.7 754.7h8.5M934.4 754.7h-8.5 M119.7 664.7h8.5M934.4 664.7h-8.5 M119.7 574.7h8.5M934.4 574.7h-8.5" stroke="#000" stroke-width="2.2" fill="none"/>
<rect x="119.7" y="574.7" width="814.7" height="359.9" stroke="#000" stroke-width="2.2" fill="none"/>
<text x="119.7" y="978.4" text-anchor="middle" class="tk">170</text>
<text x="282.6" y="978.4" text-anchor="middle" class="tk">172</text>
<text x="445.6" y="978.4" text-anchor="middle" class="tk">174</text>
<text x="608.5" y="978.4" text-anchor="middle" class="tk">176</text>
<text x="771.5" y="978.4" text-anchor="middle" class="tk">178</text>
<text x="934.4" y="978.4" text-anchor="middle" class="tk">180</text>
<text x="104.2" y="946.1" text-anchor="end" class="tk">0</text>
<text x="104.2" y="856.1" text-anchor="end" class="tk">200</text>
<text x="104.2" y="766.2" text-anchor="end" class="tk">400</text>
<text x="104.2" y="676.2" text-anchor="end" class="tk">600</text>
<text x="104.2" y="586.2" text-anchor="end" class="tk">800</text>
<text transform="translate(29.0,749) rotate(-90)" text-anchor="middle" class="lab" textLength="137" lengthAdjust="spacingAndGlyphs">DPrenew</text>
<text x="524" y="1025.1" text-anchor="middle" class="lab" textLength="206" lengthAdjust="spacingAndGlyphs">Time (hours)</text>
<text x="522.4" y="1069.7" text-anchor="middle" class="cap" textLength="44.0" lengthAdjust="spacingAndGlyphs">(b)</text>
<rect x="119.8" y="572" width="495.2" height="115.79999999999995" fill="#fff" stroke="#000" stroke-width="1.8"/>
<path d="M130 594H209" stroke="#0000ff" stroke-width="1.8"/>
<text x="216.5" y="604.9" class="lg" textLength="379" lengthAdjust="spacingAndGlyphs">DPrenew(H(P&amp;O/FLC)/FLC)</text>
<path d="M130 630H209" stroke="#ff0000" stroke-width="1.8"/>
<text x="216.5" y="640.5" class="lg" textLength="270" lengthAdjust="spacingAndGlyphs">DPrenew(FLC/P&amp;O)</text>
<path d="M130 666H209" stroke="#000000" stroke-width="1.8"/>
<text x="216.5" y="676.6" class="lg" textLength="386.5" lengthAdjust="spacingAndGlyphs">DPrenew(H(P&amp;O/FLC)/P&amp;O)</text>
<rect x="710.3" y="583.7" width="149.7" height="103.3" fill="#fffff0" stroke="#c8c8c8" stroke-width="1.6"/>
<text x="720.3" y="628.2" class="dt" textLength="99.7" lengthAdjust="spacingAndGlyphs">X: 177</text>
<text x="720.3" y="670" class="dt" textLength="127.9" lengthAdjust="spacingAndGlyphs">Y: 513.3</text>
<rect x="679.8" y="692.7" width="26" height="24" fill="#000" stroke="#c9c7ac" stroke-width="3"/>
</svg>
</body></html>
